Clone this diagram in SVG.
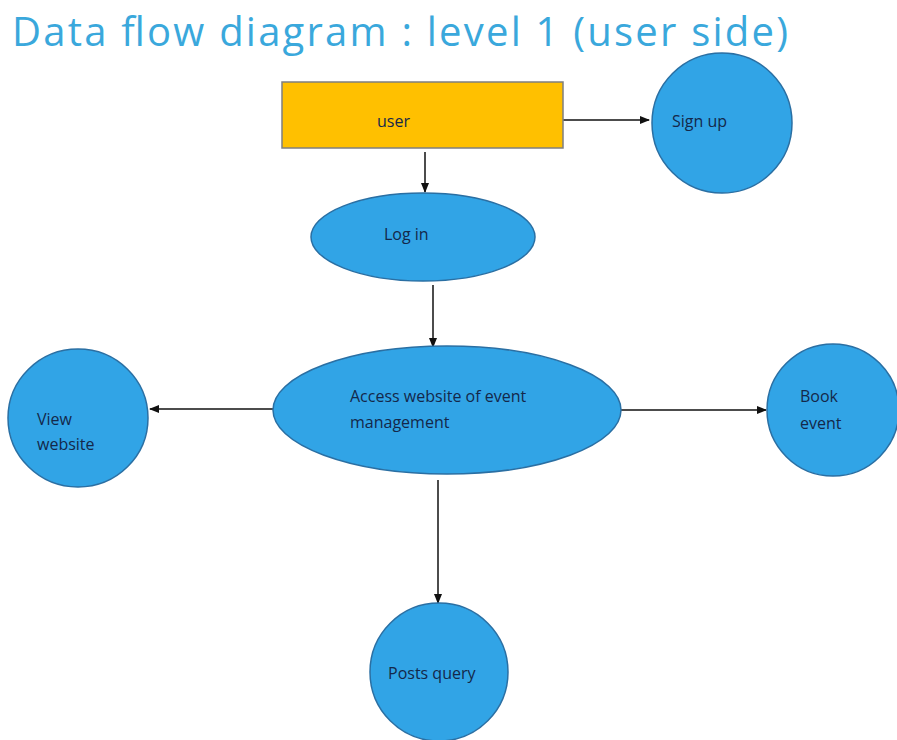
<svg xmlns="http://www.w3.org/2000/svg" width="897" height="740" viewBox="0 0 897 740">
<style>
.t{font-family:"Open Sans","Liberation Sans",sans-serif;font-size:16px;fill:#14284a}
.c{fill:#31a4e6;stroke:#2a6fa3;stroke-width:1.5}
.l{stroke:#111;stroke-width:1.5;fill:none;marker-end:url(#a)}
</style>
<defs><marker id="a" markerWidth="10" markerHeight="8" refX="9" refY="4" orient="auto" markerUnits="userSpaceOnUse"><path d="M0,0 L10,4 L0,8 Z" fill="#111"/></marker></defs>
<rect width="897" height="740" fill="#fff"/>
<text x="12" y="46" font-family="Open Sans,Liberation Sans,sans-serif" font-size="40" fill="#3aa8dc" textLength="776" lengthAdjust="spacing">Data flow diagram : level 1 (user side)</text>
<g id="connectors">
<path class="l" d="M563,120 H649"/>
<path class="l" d="M425,152 V192"/>
<path class="l" d="M433,285 V347"/>
<path class="l" d="M273,409 H150"/>
<path class="l" d="M621,410 H766"/>
<path class="l" d="M438,480 V603"/>
</g>
<g id="user"><rect x="282" y="82" width="281" height="66" fill="#ffc000" stroke="#7f7f7f" stroke-width="1.5"/><text class="t" x="377" y="127">user</text></g>
<g id="signup"><circle class="c" cx="722" cy="123" r="70"/><text class="t" x="672" y="127">Sign up</text></g>
<g id="login"><ellipse class="c" cx="423" cy="237" rx="112" ry="44"/><text class="t" x="384" y="240">Log in</text></g>
<g id="access"><ellipse class="c" cx="447" cy="410" rx="174" ry="64"/><text class="t" x="350" y="402">Access website  of event</text><text class="t" x="350" y="428">management</text></g>
<g id="view"><ellipse class="c" cx="78" cy="418" rx="70" ry="69"/><text class="t" x="37" y="425">View</text><text class="t" x="37" y="450">website</text></g>
<g id="book"><circle class="c" cx="833" cy="410" r="66"/><text class="t" x="800" y="402">Book</text><text class="t" x="800" y="429">event</text></g>
<g id="posts"><circle class="c" cx="439" cy="672" r="69"/><text class="t" x="388" y="679">Posts query</text></g>
</svg>
